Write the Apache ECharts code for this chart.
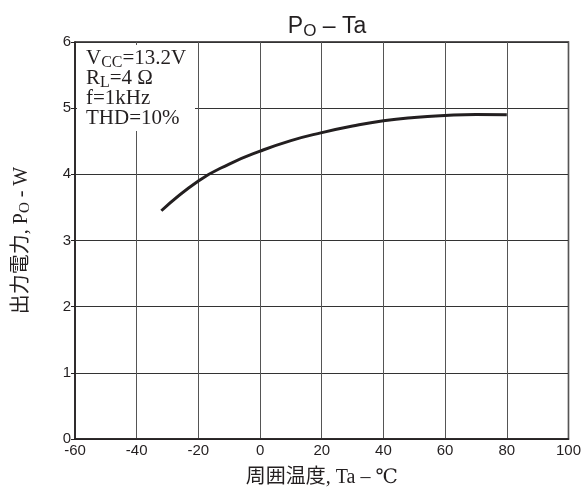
<!DOCTYPE html>
<html>
<head>
<meta charset="utf-8">
<script src="https://cdn.jsdelivr.net/npm/echarts@6/dist/echarts.min.js"></script>
<style>
  html, body { margin: 0; padding: 0; background: #fff; }
  #chart { width: 584px; height: 493px; }
</style>
</head>
<body>
<div id="chart"></div>
<script>
// ambient temperature (°C) and output power (W)
const temps = [-32, -20, -10, 0, 10, 20, 30, 40, 50, 60, 70, 80]
const power = [3.45, 3.9, 4.155, 4.35, 4.51, 4.63, 4.73, 4.81, 4.86, 4.89, 4.905, 4.9]

const xTicks = { min: -60, max: 100, step: 20 }
const yTicks = { min: 0, max: 6, step: 1 }

const serif = '"Liberation Serif", "DejaVu Serif", "Noto Sans CJK JP", serif'
const sans = '"Liberation Sans", Arial, sans-serif'

const chart = echarts.init(document.getElementById('chart'))

const option = {
  backgroundColor: '#fff',
  animation: false,
  title: {
    text: '{m|P}{s|O}{m| – Ta}',
    left: 322,
    textAlign: 'center',
    top: 8,
    textStyle: {
      rich: {
        m: { fontFamily: sans, fontSize: 23, fontWeight: 'normal', color: '#231f20' },
        s: { fontFamily: sans, fontSize: 17, fontWeight: 'normal', color: '#231f20', padding: [10, 0, 0, 0] }
      }
    }
  },
  grid: {
    left: 75,
    right: 15,
    top: 42,
    bottom: 53,
    show: true,
    borderColor: '#231f20',
    borderWidth: 1.5
  },
  xAxis: {
    type: 'value',
    min: xTicks.min,
    max: xTicks.max,
    interval: xTicks.step,
    name: '周囲温度, Ta – ℃',
    nameLocation: 'middle',
    nameGap: 29,
    nameTextStyle: { fontFamily: serif, fontSize: 20, color: '#231f20' },
    axisLine: { show: true, onZero: false, lineStyle: { color: '#231f20', width: 1.5 } },
    axisTick: { show: false },
    axisLabel: { fontFamily: sans, fontSize: 15, color: '#231f20', margin: 4 },
    splitLine: { show: true, lineStyle: { color: '#555', width: 1 } }
  },
  yAxis: {
    type: 'value',
    min: yTicks.min,
    max: yTicks.max,
    interval: yTicks.step,
    name: '{m|出力電力, P}{s|O}{m| - W}',
    nameLocation: 'middle',
    nameGap: 42,
    nameTextStyle: {
      rich: {
        m: { fontFamily: serif, fontSize: 20, color: '#231f20' },
        s: { fontFamily: serif, fontSize: 15, color: '#231f20', padding: [8, 0, 0, 0] }
      }
    },
    axisLine: { show: true, onZero: false, lineStyle: { color: '#231f20', width: 1.5 } },
    axisTick: { show: true, length: 4, lineStyle: { color: '#231f20' } },
    axisLabel: { fontFamily: sans, fontSize: 15, color: '#231f20', margin: 4 },
    splitLine: { show: true, lineStyle: { color: '#333', width: 1 } }
  },
  graphic: [
    {
      type: 'rect',
      left: 77,
      top: 45,
      shape: { width: 118, height: 86 },
      style: { fill: '#fff' },
      z: 10
    },
    {
      type: 'text',
      left: 86,
      top: 46,
      z: 11,
      style: {
        text: '{m|V}{s|CC}{m|=13.2V}\n{m|R}{s|L}{m|=4 Ω}\n{m|f=1kHz}\n{m|THD=10%}',
        rich: {
          m: { fontFamily: serif, fontSize: 21, lineHeight: 20, fill: '#231f20' },
          s: { fontFamily: serif, fontSize: 16, lineHeight: 20, fill: '#231f20', padding: [9, 0, 0, 0] }
        }
      }
    }
  ],
  series: [
    {
      type: 'line',
      data: temps.map((t, i) => [t, power[i]]),
      smooth: 0.5,
      symbol: 'none',
      lineStyle: { color: '#231f20', width: 3 },
      z: 5
    }
  ]
}

chart.setOption(option)
</script>
</body>
</html>
